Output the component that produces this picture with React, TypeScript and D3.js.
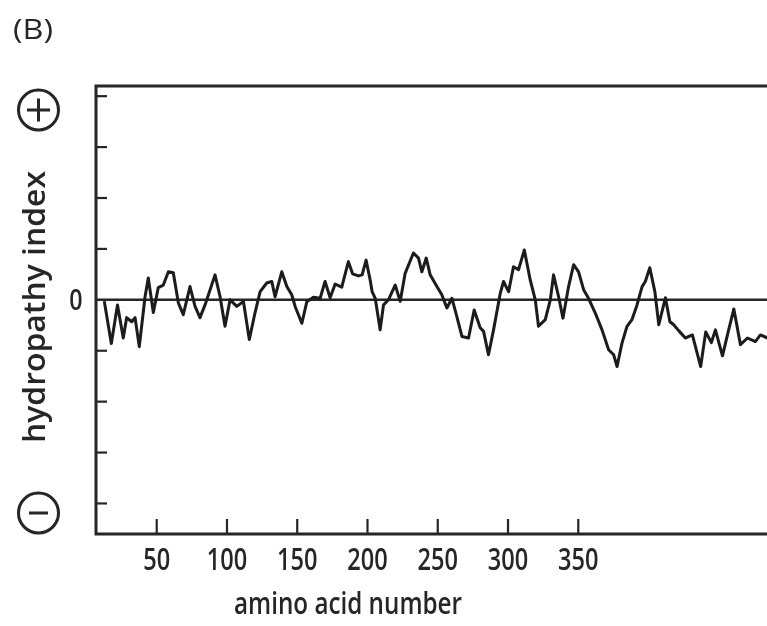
import * as d3 from "d3";

// ─── data (residue number, hydropathy in tick units) ───
const residue = [
  12.7, 17.7, 22.1, 26.2, 28.6, 32.2, 34.6, 37.6, 41.7, 44.0,
  47.6, 51.1, 54.7, 58.3, 61.8, 65.4, 68.9, 73.7, 77.3, 80.8,
  84.4, 91.5, 95.1, 98.6, 102.2, 107.0, 111.7, 115.9, 120.0, 123.6,
  128.3, 131.9, 134.2, 139.0, 142.6, 146.1, 148.5, 153.3, 156.8, 161.5,
  166.3, 169.8, 173.4, 177.0, 181.7, 186.4, 189.4, 193.6, 196.2, 199.0,
  201.9, 203.3, 205.5, 209.0, 211.4, 214.9, 219.7, 223.3, 226.8, 232.7,
  236.3, 238.7, 241.8, 244.6, 249.4, 252.9, 256.5, 260.1, 263.6, 267.2,
  271.9, 275.9, 280.2, 282.6, 286.1, 289.7, 294.5, 296.8, 300.4, 303.9,
  307.5, 311.6, 315.8, 319.4, 321.7, 326.5, 330.1, 332.4, 336.0, 339.1,
  343.1, 346.7, 350.2, 353.8, 357.3, 362.1, 366.9, 371.6, 375.2, 377.6,
  381.1, 384.7, 388.2, 391.8, 395.4, 397.7, 400.9, 404.5, 407.3, 412.0,
  415.2, 417.9, 421.6, 426.2, 431.2, 437.1, 440.7, 444.7, 447.6, 452.6,
  456.5, 460.7, 465.4, 470.4, 476.0, 479.6, 484.6,
];
const hydropathy = [
  -0.03, -0.86, -0.10, -0.75, -0.35, -0.43, -0.35, -0.92, 0.06, 0.43,
  -0.25, 0.24, 0.29, 0.55, 0.53, -0.06, -0.29, 0.26, -0.13, -0.35,
  -0.10, 0.49, 0.06, -0.52, 0.0, -0.13, -0.03, -0.78, -0.25, 0.16,
  0.33, 0.36, 0.06, 0.55, 0.26, 0.10, -0.13, -0.46, -0.04, 0.05,
  0.03, 0.36, 0.04, 0.31, 0.25, 0.75, 0.51, 0.47, 0.49, 0.78,
  0.39, 0.16, 0.03, -0.59, -0.10, 0.0, 0.29, -0.03, 0.52, 0.92,
  0.82, 0.55, 0.82, 0.49, 0.26, 0.10, -0.16, 0.03, -0.33, -0.72,
  -0.75, -0.20, -0.55, -0.62, -1.08, -0.59, 0.13, 0.36, 0.16, 0.65,
  0.59, 0.98, 0.39, 0.0, -0.52, -0.39, 0.0, 0.49, 0.06, -0.36,
  0.26, 0.69, 0.55, 0.20, 0.03, -0.26, -0.59, -0.98, -1.08, -1.31,
  -0.85, -0.52, -0.39, -0.10, 0.26, 0.36, 0.63, 0.16, -0.49, 0.04,
  -0.43, -0.49, -0.61, -0.75, -0.69, -1.31, -0.63, -0.84, -0.59, -1.10,
  -0.65, -0.18, -0.88, -0.75, -0.82, -0.69, -0.75,
];
const xTicks = [50, 100, 150, 200, 250, 300, 350];
const yTicks = [-4, -3, -2, -1, 1, 2, 3, 4];

// ─── layout ───
const W = 767;
const H = 626;
const left = 96;
const top = 86;
const bottom = 534;
const ink = "#262626";
const font = "'Open Sans', 'Noto Sans', sans-serif";

const x = d3.scaleLinear().domain([6.8, 484.3]).range([left, W]);
const y = d3.scaleLinear().domain([-4.6, 4.2]).range([bottom, top]);

const line = d3
  .line<number>()
  .x((_, i) => x(residue[i]))
  .y((d) => y(d))
  .curve(d3.curveLinear);

export default function App() {
  return (
    <svg
      width={W}
      height={H}
      viewBox={`0 0 ${W} ${H}`}
      style={{ position: "fixed", left: 0, top: 0, background: "#fff" }}
    >
      <defs>
        <filter id="soft" x="-5%" y="-5%" width="110%" height="110%">
          <feGaussianBlur stdDeviation={0.55} />
        </filter>
      </defs>
      <rect width={W} height={H} fill="#fff" />

      <g filter="url(#soft)">
        {/* panel label */}
        <text x={13} y={39} fontSize={27} fontWeight={500} fontFamily={font} fill={ink}
          textLength={40} lengthAdjust="spacingAndGlyphs">
          (B)
        </text>

        {/* frame: top, left, bottom */}
        <path
          d={`M${W + 5},${top} H${left} V${bottom} H${W + 5}`}
          fill="none" stroke={ink} strokeWidth={3}
        />

        {/* zero line */}
        <line x1={left} x2={W} y1={y(0)} y2={y(0)} stroke={ink} strokeWidth={2.6} />

        {/* y ticks (inside) */}
        {yTicks.map((t) => (
          <line key={t} x1={left} x2={left + 11} y1={y(t)} y2={y(t)}
            stroke={ink} strokeWidth={2.2} />
        ))}

        {/* x ticks (inside) */}
        {xTicks.map((t) => (
          <g key={t}>
            <line x1={x(t)} x2={x(t)} y1={bottom} y2={bottom - 15}
              stroke={ink} strokeWidth={2.2} />
            <text
              transform={`translate(${x(t)},${570}) scale(0.76,1)`}
              textAnchor="middle" fontSize={31} fontWeight={600}
              fontFamily={font} fill={ink}>
              {t}
            </text>
          </g>
        ))}

        {/* hydropathy trace */}
        <path d={line(hydropathy) ?? ""} fill="none" stroke="#1a1a1a"
          strokeWidth={3} strokeLinejoin="round" />

        {/* "0" label */}
        <text transform={`translate(76,${y(0) + 10}) scale(0.8,1)`}
          textAnchor="middle" fontSize={29} fontWeight={600} fontFamily={font} fill={ink}>
          0
        </text>

        {/* plus / minus symbols */}
        <circle cx={38.5} cy={110} r={20} fill="none" stroke={ink} strokeWidth={3} />
        <line x1={27} x2={50} y1={110} y2={110} stroke={ink} strokeWidth={3} />
        <line x1={38.5} x2={38.5} y1={98.5} y2={121.5} stroke={ink} strokeWidth={3} />
        <circle cx={38.5} cy={513} r={20} fill="none" stroke={ink} strokeWidth={3} />
        <line x1={29} x2={48} y1={513} y2={513} stroke={ink} strokeWidth={3} />

        {/* axis titles */}
        <text transform={`translate(45,${307}) rotate(-90)`}
          textAnchor="middle" fontSize={30} fontWeight={600} fontFamily={font} fill={ink}
          textLength={272} lengthAdjust="spacingAndGlyphs">
          hydropathy index
        </text>
        <text x={348} y={614} textAnchor="middle" fontSize={30} fontWeight={600}
          fontFamily={font} fill={ink} textLength={228} lengthAdjust="spacingAndGlyphs">
          amino acid number
        </text>
      </g>
    </svg>
  );
}
